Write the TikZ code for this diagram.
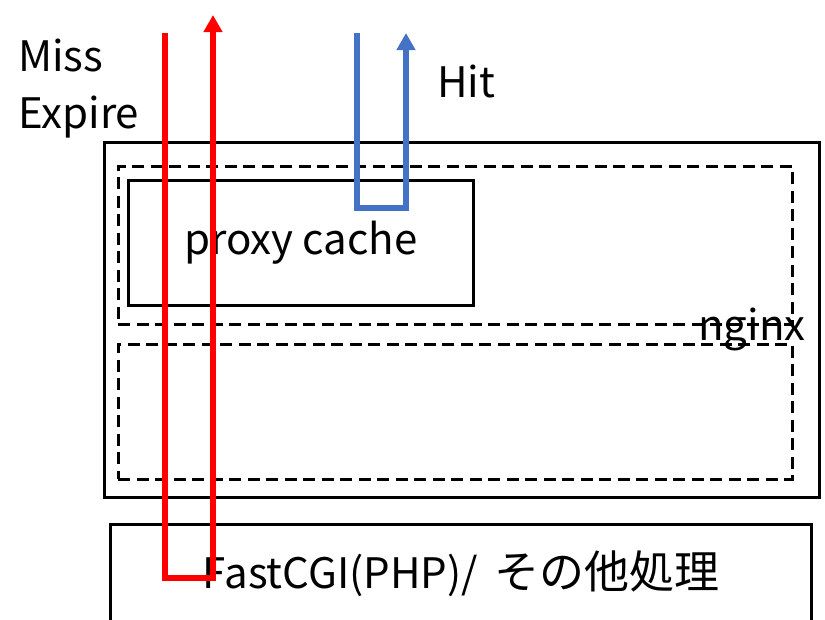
\documentclass[tikz,border=0pt]{standalone}
\usepackage{fontspec}
\setmainfont{Noto Sans CJK JP}
\usetikzlibrary{arrows.meta,positioning,calc}
\definecolor{missred}{HTML}{FF0000}
\definecolor{hitblue}{HTML}{4472C4}
\definecolor{ink}{HTML}{000000}

\begin{document}
\begin{tikzpicture}[
    x=1pt, y=-1pt,
    font=\fontsize{42}{57}\selectfont,
    box/.style={rectangle, draw=ink, line width=2.9pt, inner sep=0pt, anchor=north west,
                text=ink, align=center},
    zone/.style={box, dash pattern=on 12pt off 6.5pt},
    label/.style={inner sep=0pt, text=ink, align=left},
    route/.style={line width=5.5pt, color=#1, line join=miter,
                  -{Triangle[length=17pt,width=18pt]}}
  ]

% ---------------- page ----------------
\useasboundingbox (0,0) rectangle (825,619);

% ---------------- boxes ----------------
\node[box, minimum width=715pt, minimum height=355pt] (nginx) at (103,141) {};
\node[zone, minimum width=674pt, minimum height=158pt] (upper) at (117,165) {};
\node[zone, minimum width=674pt, minimum height=135pt] (lower) at (117,343) {};
\node[box, minimum width=345pt, minimum height=125pt] (cache) at (127,179) {proxy cache};
\node[box, minimum width=701pt, minimum height=98pt] (fcgi) at (109,523)
  {FastCGI(PHP)/\hspace{16pt}{\fontsize{45}{57}\selectfont その他処理}};

% ---------------- labels ----------------
\node[label, anchor=base] (nginxlbl) at (752,340) {nginx};
\node[label, anchor=west] (misslbl) at (18,89) {Miss\\Expire};
\node[label, anchor=base west] (hitlbl) at (437,97) {Hit};

% ---------------- request routes ----------------
\coordinate (missin)  at (165,33);
\coordinate (missout) at (213,15);
\coordinate (hitin)   at (357,33);
\coordinate (hitout)  at (406,33);

\draw[route=missred] (missin) -- ++(0,545) -| (missout);
\draw[route=hitblue] (hitin) -- ++(0,175) -| (hitout);

\end{tikzpicture}
\end{document}
